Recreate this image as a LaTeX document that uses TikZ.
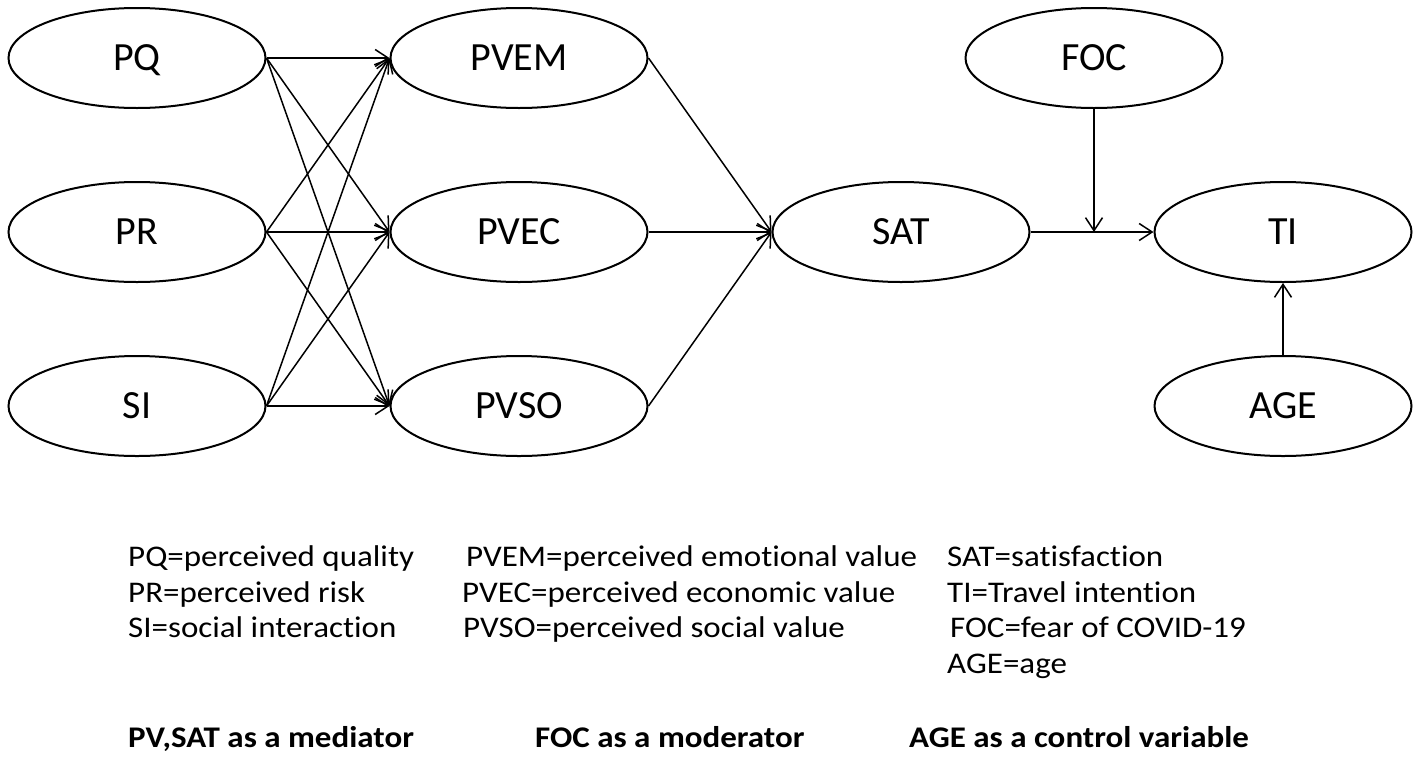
\documentclass[tikz,border=0pt]{standalone}
\usepackage{fontspec}
\setmainfont{Carlito}[Ligatures=CommonOff]
\usetikzlibrary{shapes.geometric,arrows.meta,calc}
\newcommand{\widetext}[1]{\scalebox{1.1}[1]{#1}}
\tikzset{
  var/.style={ellipse, draw=black, line width=2pt, minimum width=257pt, minimum height=100pt, inner sep=0pt, text height=24pt, text depth=0pt, font=\fontsize{40}{44}\selectfont},
  arr/.style={line width=1.5pt, -{Straight Barb[length=13pt,width=17pt,line width=1.5pt]}},
  leg/.style={anchor=base west, inner sep=0pt, font=\fontsize{30}{36}\selectfont},
  legb/.style={anchor=base west, inner sep=0pt, font=\fontsize{30}{36}\selectfont\bfseries}
}
\begin{document}
\begin{tikzpicture}[x=1pt,y=-1pt]
\useasboundingbox[fill=white] (0,0) rectangle (1418,758);
% nodes
\node[var] (PQ) at (137,58) {PQ};
\node[var] (PR) at (137,232) {PR};
\node[var] (SI) at (137,406) {SI};
\node[var] (PVEM) at (519,58) {PVEM};
\node[var] (PVEC) at (519,232) {PVEC};
\node[var] (PVSO) at (519,406) {PVSO};
\node[var] (SAT) at (901,232) {SAT};
\node[var] (FOC) at (1094,58) {FOC};
\node[var] (TI) at (1283,232) {TI};
\node[var] (AGE) at (1283,406) {AGE};
\coordinate (mod) at (FOC.south |- SAT.east);
% connectors
\foreach \s in {PQ,PR,SI}{
  \foreach \t in {PVEM,PVEC,PVSO}{
    \draw[arr] (\s.east) -- (\t.west);
  }
}
\foreach \s in {PVEM,PVEC,PVSO}{
  \draw[arr] (\s.east) -- (SAT.west);
}
\draw[arr] (SAT.east) -- (TI.west);
\draw[arr] (FOC.south) -- (mod);
\draw[arr] (AGE.north) -- (TI.south);
% legend
\node[leg] (l1) at (128,566) {\widetext{PQ=perceived quality}};
\node[leg] (l2) at (128,602) {\widetext{PR=perceived risk}};
\node[leg] (l3) at (128,637) {\widetext{SI=social interaction}};
\node[leg] (m1) at (466,566) {\widetext{PVEM=perceived emotional value}};
\node[leg] (m2) at (462,602) {\widetext{PVEC=perceived economic value}};
\node[leg] (m3) at (463,637) {\widetext{PVSO=perceived social value}};
\node[leg] (r1) at (947,566) {\widetext{SAT=satisfaction}};
\node[leg] (r2) at (947,602) {\widetext{TI=Travel intention}};
\node[leg] (r3) at (950,637) {\widetext{FOC=fear of COVID-19}};
\node[leg] (r4) at (947,673) {\widetext{AGE=age}};
\node[legb] (b1) at (128,747) {\widetext{PV,SAT as a mediator}};
\node[legb] (b2) at (535,747) {\widetext{FOC as a moderator}};
\node[legb] (b3) at (909,747) {\widetext{AGE as a control variable}};
\end{tikzpicture}
\end{document}
